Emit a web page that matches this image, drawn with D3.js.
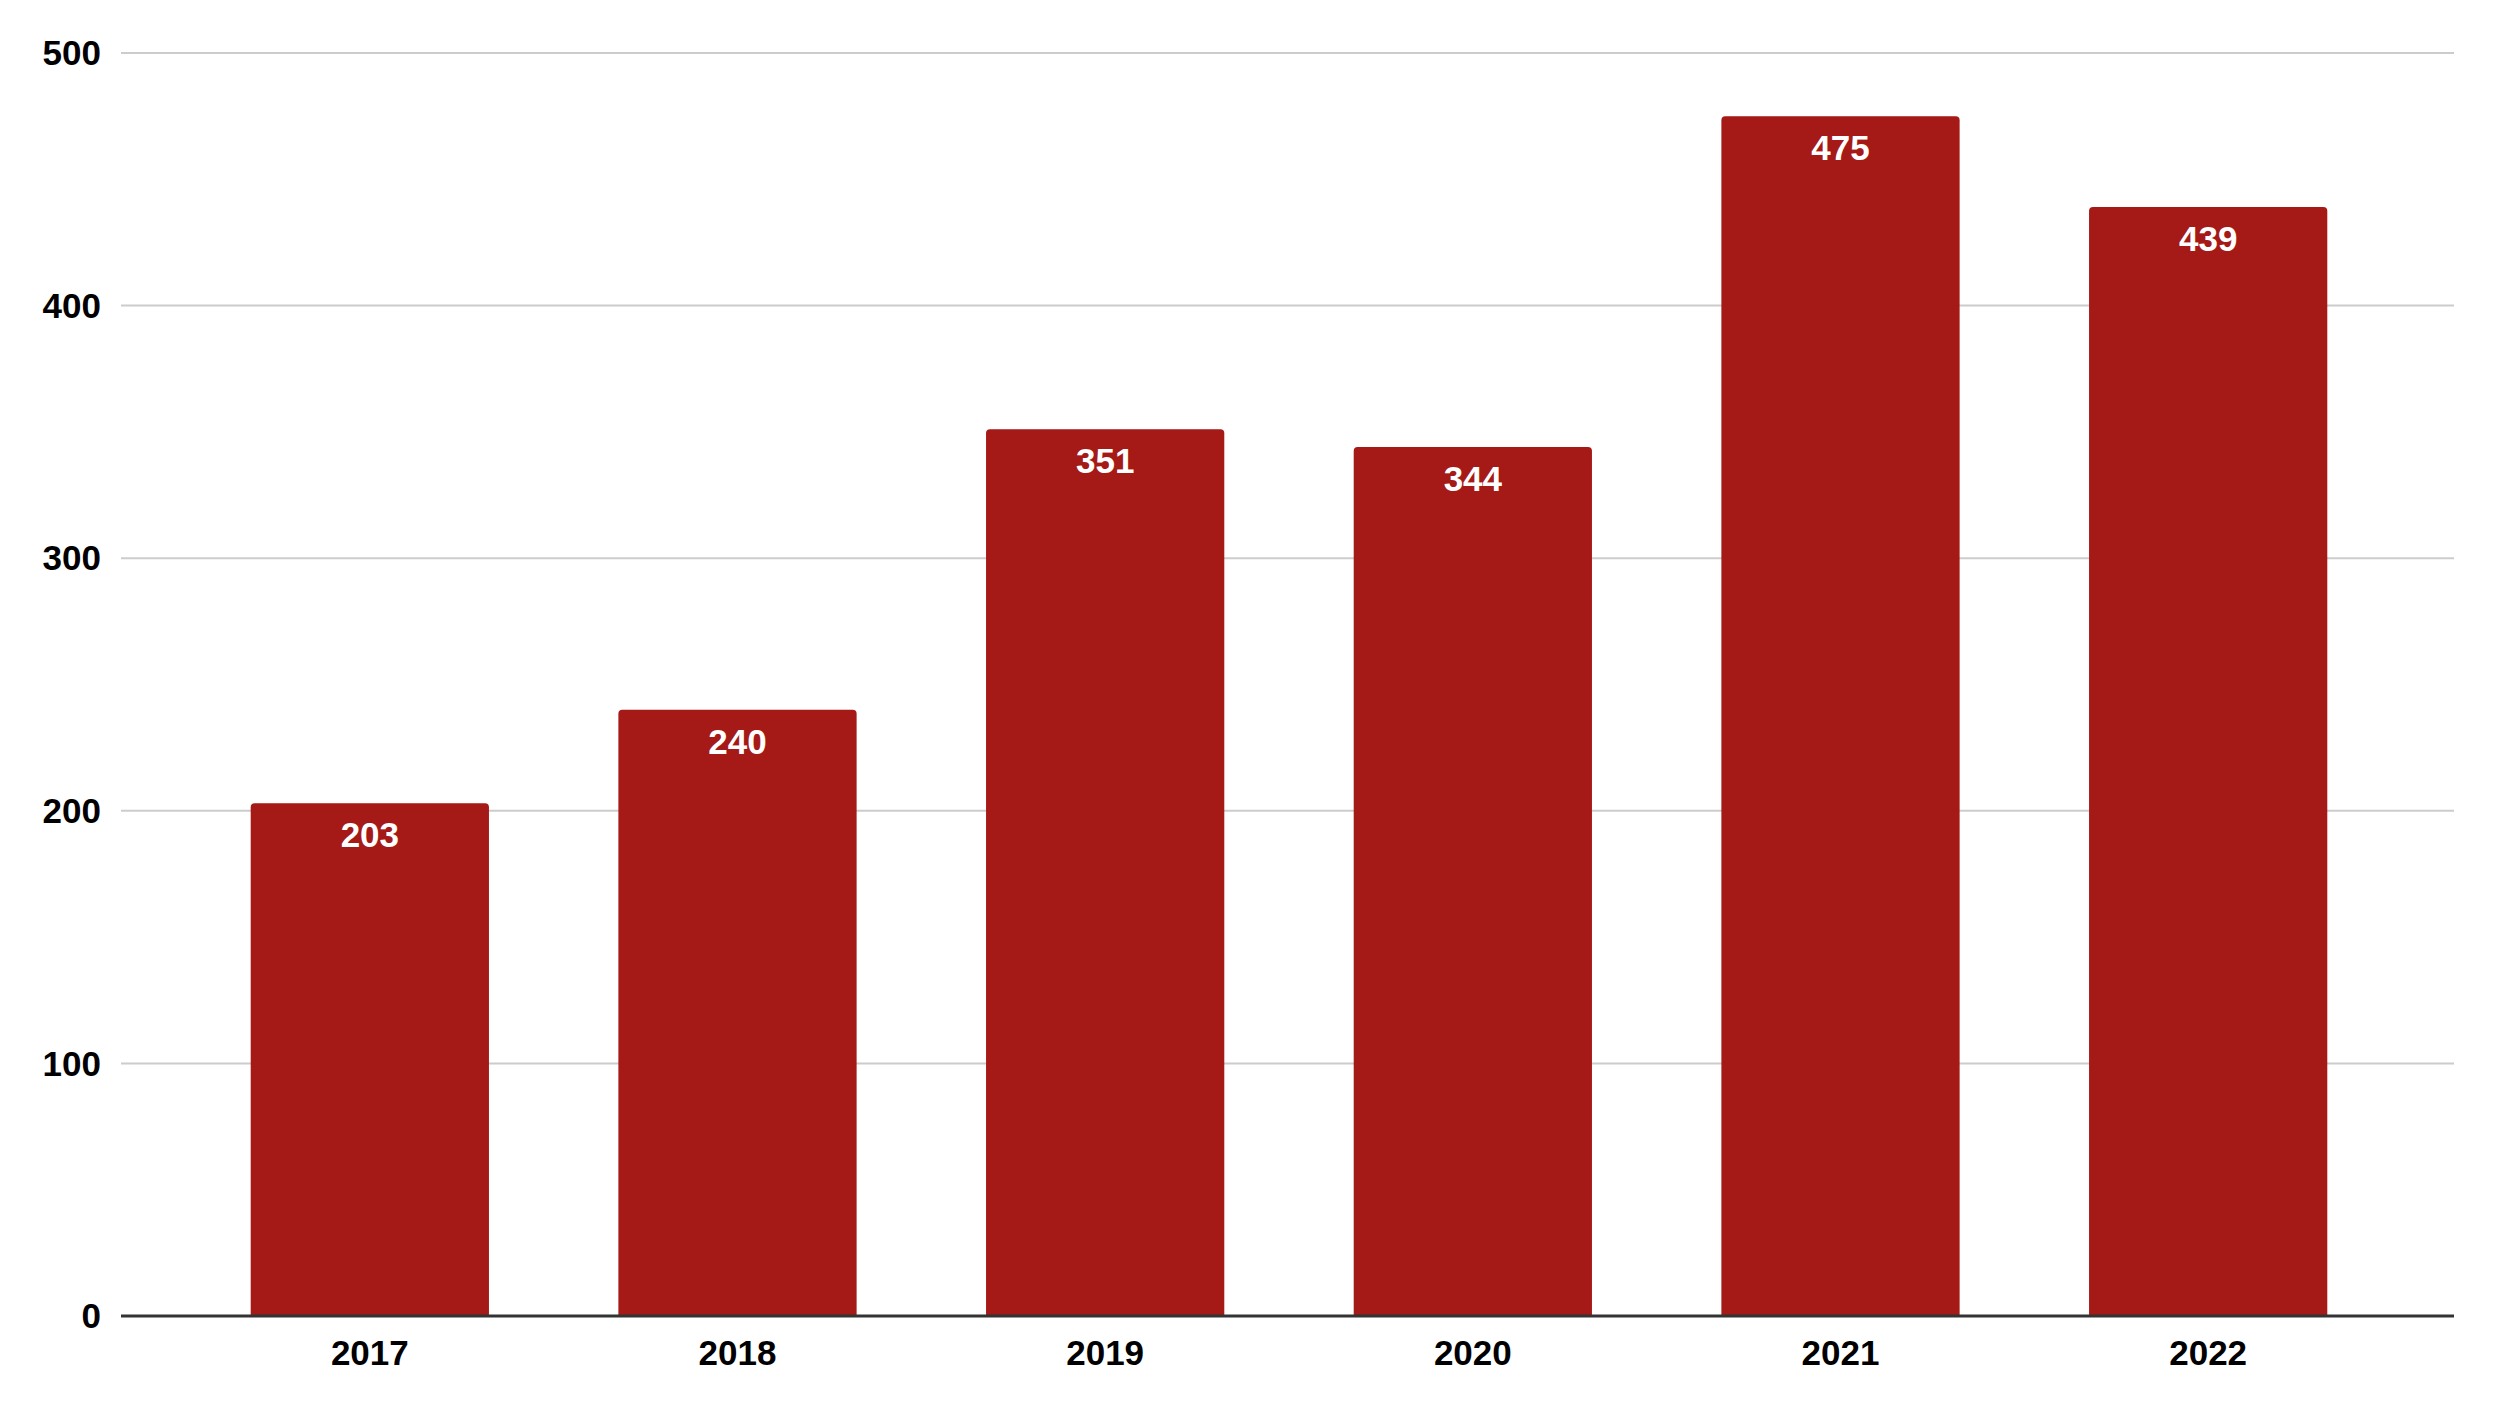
<!DOCTYPE html>
<html><head><meta charset="utf-8">
<script src="https://cdn.jsdelivr.net/npm/d3@7"></script>
<style>html,body{margin:0;padding:0;background:#fff;}svg{display:block;}</style>
</head><body>
<svg id="chart" width="2500" height="1406"></svg>
<script>
const categories = ["2017","2018","2019","2020","2021","2022"];
const values = [203, 240, 351, 344, 475, 439];
const yTicks = [0, 100, 200, 300, 400, 500];

const svg = d3.select("#chart");
const font = "'Liberation Sans', Arial, sans-serif";
const fs = 35;
const axisLeft = 121, axisRight = 2454;
const y = d3.scaleLinear().domain([0, 500]).range([1316, 53]);
const x = d3.scaleBand().domain(categories).range([186, 2392]).paddingInner(0.352).paddingOuter(0.176);

// gridlines
svg.append("g").selectAll("line").data(yTicks.filter(d => d > 0)).join("line")
  .attr("x1", axisLeft).attr("x2", axisRight)
  .attr("y1", d => y(d)).attr("y2", d => y(d))
  .attr("stroke", "#cccccc").attr("stroke-width", 2);

// y labels
svg.append("g").selectAll("text").data(yTicks).join("text")
  .attr("x", 101).attr("y", d => y(d)).attr("dy", "0.35em")
  .attr("text-anchor", "end")
  .attr("font-family", font).attr("font-weight", "bold").attr("font-size", fs)
  .attr("fill", "#000").text(d => d);

// bars with rounded top corners
const r = 4;
function barPath(d, i) {
  const x0 = x(categories[i]), w = x.bandwidth(), y0 = y(d), y1 = y(0);
  return `M${x0},${y1}V${y0 + r}Q${x0},${y0} ${x0 + r},${y0}H${x0 + w - r}Q${x0 + w},${y0} ${x0 + w},${y0 + r}V${y1}Z`;
}
svg.append("g").selectAll("path").data(values).join("path")
  .attr("d", barPath).attr("fill", "#a51916");

// data labels
svg.append("g").selectAll("text").data(values).join("text")
  .attr("x", (d, i) => x(categories[i]) + x.bandwidth() / 2)
  .attr("y", d => y(d) + 44)
  .attr("text-anchor", "middle")
  .attr("font-family", font).attr("font-weight", "bold").attr("font-size", fs)
  .attr("fill", "#fff").text(d => d);

// baseline
svg.append("line").attr("x1", axisLeft).attr("x2", axisRight)
  .attr("y1", y(0)).attr("y2", y(0))
  .attr("stroke", "#333").attr("stroke-width", 3);

// x labels
svg.append("g").selectAll("text").data(categories).join("text")
  .attr("x", d => x(d) + x.bandwidth() / 2)
  .attr("y", y(0) + 49)
  .attr("text-anchor", "middle")
  .attr("font-family", font).attr("font-weight", "bold").attr("font-size", fs)
  .attr("fill", "#000").text(d => d);
</script>
</body></html>
